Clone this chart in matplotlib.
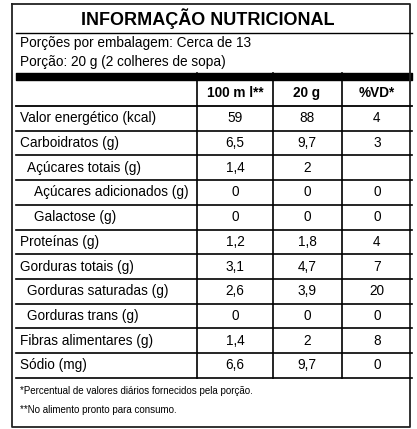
import matplotlib.pyplot as plt

title = "INFORMAÇÃO NUTRICIONAL"
info = ["Porções por embalagem: Cerca de 13", "Porção: 20 g (2 colheres de sopa)"]
headers = ["100 m l**", "20 g", "%VD*"]
nutrients = ["Valor energético (kcal)", "Carboidratos (g)", "Açúcares totais (g)",
             "Açúcares adicionados (g)", "Galactose (g)", "Proteínas (g)",
             "Gorduras totais (g)", "Gorduras saturadas (g)", "Gorduras trans (g)",
             "Fibras alimentares (g)", "Sódio (mg)"]
indent = [0, 0, 1, 2, 2, 0, 0, 1, 1, 0, 0]
per100 = ["59", "6,5", "1,4", "0", "0", "1,2", "3,1", "2,6", "0", "1,4", "6,6"]
per20 = ["88", "9,7", "2", "0", "0", "1,8", "4,7", "3,9", "0", "2", "9,7"]
vd = ["4", "3", "", "0", "0", "4", "7", "20", "0", "8", "0"]
notes = ["*Percentual de valores diários fornecidos pela porção.",
         "**No alimento pronto para consumo."]

plt.rcParams['font.family'] = ['Liberation Sans', 'DejaVu Sans']
fig = plt.figure(figsize=(4.17, 4.29), dpi=100)
ax = fig.add_axes([0, 0, 1, 1])
ax.set_xlim(0, 417)
ax.set_ylim(429, 0)
ax.axis('off')

L, R = 16, 412
cols = [197, 273, 342]
centers = [235, 307, 377]
fs = 9.8

# outer border
ax.plot([12, 410, 410, 12, 12], [4, 4, 427, 427, 4], color='#222', lw=1.3)
ax.text(208, 19, title, ha='center', va='center', fontsize=13, fontweight='bold')
ax.plot([L, R], [33, 33], color='black', lw=1)
ax.text(20, 43, info[0], va='center', fontsize=fs)
ax.text(20, 62, info[1], va='center', fontsize=fs)
ax.fill_between([L, R], 73, 80, color='black')

ax.plot([L, R], [106, 106], color='black', lw=1.3)
for c, h in zip(centers, headers):
    ax.text(c, 93, h, ha='center', va='center', fontsize=fs, fontweight='bold')

row_h = 24.7
y0 = 106
for i, name in enumerate(nutrients):
    yc = y0 + row_h * (i + 0.5)
    ax.text(20 + indent[i] * 7, yc, name, va='center', fontsize=fs)
    for c, v in zip(centers, [per100[i], per20[i], vd[i]]):
        ax.text(c, yc, v, ha='center', va='center', fontsize=fs)
    ax.plot([L, R], [y0 + row_h * (i + 1)] * 2, color='black', lw=1.2)
yend = y0 + row_h * len(nutrients)
for x in cols:
    ax.plot([x, x], [73, yend], color='black', lw=1.2)

ax.text(20, 391, notes[0], va='center', fontsize=7)
ax.text(20, 410, notes[1], va='center', fontsize=7)

fig.savefig('out.png', dpi=100)
